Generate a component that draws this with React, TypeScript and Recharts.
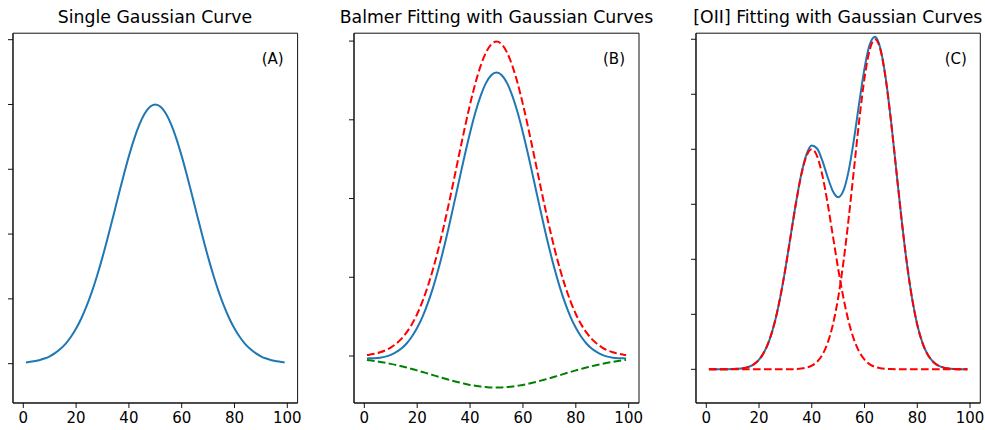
import React from 'react';
import { LineChart, Line, XAxis, YAxis, ReferenceArea } from 'recharts';

// sample positions along the x axis
const xs = [
  1, 2, 4, 6, 8, 10, 12, 14, 16, 18, 20, 22, 24, 26, 28, 30, 32, 34, 36, 38, 40, 42, 44, 46, 48, 50,
  52, 54, 56, 58, 60, 62, 64, 66, 68, 70, 72, 74, 76, 78, 80, 82, 84, 86, 88, 90, 92, 94, 96, 98, 99,
];

// (A) single gaussian
const singleCurve = [
  0.019, 0.024, 0.036, 0.054, 0.079, 0.114, 0.162, 0.225, 0.306, 0.411, 0.541, 0.701, 0.891, 1.112,
  1.364, 1.644, 1.947, 2.265, 2.588, 2.905, 3.203, 3.47, 3.692, 3.86, 3.965, 4.0,
  3.965, 3.86, 3.692, 3.47, 3.203, 2.905, 2.588, 2.265, 1.947, 1.644, 1.364, 1.112, 0.891, 0.701,
  0.541, 0.411, 0.306, 0.225, 0.162, 0.114, 0.079, 0.054, 0.036, 0.024, 0.019,
];

// (B) Balmer: total (blue), emission (red dashed), absorption (green dashed)
const balmerTotal = [
  -0.031, -0.03, -0.028, -0.021, -0.008, 0.014, 0.048, 0.095, 0.159, 0.247, 0.358, 0.498, 0.669, 0.869,
  1.101, 1.361, 1.645, 1.945, 2.251, 2.552, 2.836, 3.092, 3.304, 3.466, 3.566, 3.6,
  3.566, 3.466, 3.304, 3.092, 2.836, 2.552, 2.251, 1.945, 1.645, 1.361, 1.101, 0.869, 0.669, 0.498,
  0.358, 0.247, 0.159, 0.095, 0.048, 0.014, -0.008, -0.021, -0.028, -0.03, -0.031,
];
const balmerEmission = [
  0.012, 0.017, 0.029, 0.047, 0.072, 0.107, 0.155, 0.218, 0.299, 0.404, 0.534, 0.694, 0.884, 1.105,
  1.357, 1.637, 1.94, 2.258, 2.581, 2.898, 3.196, 3.463, 3.685, 3.853, 3.958, 3.993,
  3.958, 3.853, 3.685, 3.463, 3.196, 2.898, 2.581, 2.258, 1.94, 1.637, 1.357, 1.105, 0.884, 0.694,
  0.534, 0.404, 0.299, 0.218, 0.155, 0.107, 0.072, 0.047, 0.029, 0.017, 0.012,
];
const balmerAbsorption = [
  -0.05, -0.054, -0.064, -0.075, -0.087, -0.1, -0.114, -0.13, -0.147, -0.164, -0.183, -0.203, -0.222,
  -0.243, -0.263, -0.283, -0.302, -0.32, -0.337, -0.353, -0.367, -0.378, -0.388, -0.394, -0.399, -0.4,
  -0.399, -0.394, -0.388, -0.378, -0.367, -0.353, -0.337, -0.32, -0.302, -0.283, -0.263, -0.243,
  -0.222, -0.203, -0.183, -0.164, -0.147, -0.13, -0.114, -0.1, -0.087, -0.075, -0.064, -0.054, -0.05,
];

// (C) [OII] doublet: total (blue) and two components (red dashed)
const oiiTotal = [
  0, 0, 0, 0, 0.001, 0.004, 0.009, 0.02, 0.044, 0.091, 0.176, 0.318, 0.541, 0.865, 1.299, 1.832,
  2.428, 3.024, 3.543, 3.908, 4.067, 4.014, 3.794, 3.496, 3.238, 3.129,
  3.247, 3.612, 4.18, 4.847, 5.471, 5.906, 6.044, 5.835, 5.304, 4.533, 3.64, 2.747, 1.948, 1.298,
  0.812, 0.477, 0.264, 0.137, 0.067, 0.031, 0.013, 0.005, 0.002, 0.001, 0,
];
const oiiComp1 = [
  0, 0, 0, 0, 0.001, 0.004, 0.009, 0.02, 0.044, 0.091, 0.176, 0.318, 0.541, 0.865, 1.299, 1.831,
  2.426, 3.019, 3.53, 3.877, 4.0, 3.877, 3.53, 3.019, 2.426, 1.831,
  1.299, 0.865, 0.541, 0.318, 0.176, 0.091, 0.044, 0.02, 0.009, 0.004, 0.001, 0, 0, 0,
  0, 0, 0, 0, 0, 0, 0, 0, 0, 0, 0,
];
const oiiComp2 = [
  0, 0, 0, 0, 0, 0, 0, 0, 0, 0, 0, 0, 0, 0, 0, 0.001,
  0.002, 0.005, 0.013, 0.031, 0.067, 0.137, 0.264, 0.477, 0.812, 1.298,
  1.948, 2.747, 3.639, 4.529, 5.295, 5.815, 6.0, 5.815, 5.295, 4.529, 3.639, 2.747, 1.948, 1.298,
  0.812, 0.477, 0.264, 0.137, 0.067, 0.031, 0.013, 0.005, 0.002, 0.001, 0,
];

const xTicks = [0, 20, 40, 60, 80, 100];
const xDomain: [number, number] = [-3.9, 103.9];

const BLUE = '#1f77b4';
const RED = '#ff0000';
const GREEN = '#008000';
const DASH = '7.7 3.3';
const FONT = '"DejaVu Sans", Verdana, sans-serif';
const AXIS_COLOR = '#111';

type Series = { key: string; values: number[]; color: string; dashed: boolean };

type PanelProps = {
  title: string;
  tag: string;
  plotLeft: number;
  plotWidth: number;
  yDomain: [number, number];
  yTicks: number[];
  series: Series[];
};

const PLOT_TOP = 33.2;
const AXIS_H = 27;
const Y_W = 12;
const RIGHT_PAD = 20;
const TITLE_SIZE = 17.3;
const TICK_SIZE = 15;
const TAG_SIZE = 15;

function Panel({ title, tag, plotLeft, plotWidth, yDomain, yTicks, series }: PanelProps) {
  const rows = xs.map((x, i) => {
    const r: Record<string, number> = { x };
    series.forEach((s) => {
      r[s.key] = s.values[i];
    });
    return r;
  });
  const chartW = Y_W + plotWidth + RIGHT_PAD;
  return (
    <>
      <div
        style={{
          position: 'absolute',
          left: plotLeft - 20,
          width: plotWidth + 40,
          top: 23.7 - 0.846 * TITLE_SIZE,
          fontSize: TITLE_SIZE,
          lineHeight: `${TITLE_SIZE}px`,
          textAlign: 'center',
          whiteSpace: 'nowrap',
          color: '#000',
          fontFamily: FONT,
        }}
      >
        {title}
      </div>
      <div style={{ position: 'absolute', left: plotLeft - Y_W, top: 0, width: chartW, height: 430 }}>
        <LineChart
          width={chartW}
          height={430}
          data={rows}
          margin={{ top: PLOT_TOP, right: RIGHT_PAD, bottom: 0, left: 0 }}
        >
          <XAxis
            dataKey="x"
            type="number"
            domain={xDomain}
            ticks={xTicks}
            interval={0}
            allowDataOverflow
            height={AXIS_H}
            tickSize={5}
            tickMargin={4}
            stroke={AXIS_COLOR}
            tick={{ fill: '#000', fontSize: TICK_SIZE, fontFamily: FONT }}
          />
          <YAxis
            type="number"
            domain={yDomain}
            ticks={yTicks}
            interval={0}
            allowDataOverflow
            width={Y_W}
            tickSize={5}
            stroke={AXIS_COLOR}
            tickFormatter={() => ''}
            tick={{ fontSize: 1 }}
          />
          <ReferenceArea
            x1={xDomain[0]}
            x2={xDomain[1]}
            y1={yDomain[0]}
            y2={yDomain[1]}
            fill="none"
            fillOpacity={0}
            stroke={AXIS_COLOR}
            strokeWidth={1}
          />
          {series.map((s) => (
            <Line
              key={s.key}
              dataKey={s.key}
              type="monotone"
              stroke={s.color}
              strokeWidth={2}
              strokeDasharray={s.dashed ? DASH : undefined}
              dot={false}
              activeDot={false}
              isAnimationActive={false}
            />
          ))}
        </LineChart>
      </div>
      <div
        style={{
          position: 'absolute',
          left: plotLeft + 249,
          top: 64.3 - 0.846 * TAG_SIZE,
          fontSize: TAG_SIZE,
          lineHeight: `${TAG_SIZE}px`,
          whiteSpace: 'nowrap',
          color: '#000',
          fontFamily: FONT,
        }}
      >
        {tag}
      </div>
    </>
  );
}

export default function App() {
  return (
    <div
      style={{
        position: 'absolute',
        left: 0,
        top: 0,
        width: 985,
        height: 430,
        overflow: 'hidden',
        background: '#fff',
        fontFamily: FONT,
      }}
    >
      <Panel
        title="Single Gaussian Curve"
        tag="(A)"
        plotLeft={12.7}
        plotWidth={284.6}
        yDomain={[-0.607, 5.1]}
        yTicks={[0, 1, 2, 3, 4, 5]}
        series={[{ key: 'single', values: singleCurve, color: BLUE, dashed: false }]}
      />
      <Panel
        title="Balmer Fitting with Gaussian Curves"
        tag="(B)"
        plotLeft={354}
        plotWidth={285}
        yDomain={[-0.597, 4.1]}
        yTicks={[0, 1, 2, 3, 4]}
        series={[
          { key: 'total', values: balmerTotal, color: BLUE, dashed: false },
          { key: 'emission', values: balmerEmission, color: RED, dashed: true },
          { key: 'absorption', values: balmerAbsorption, color: GREEN, dashed: true },
        ]}
      />
      <Panel
        title="[OII] Fitting with Gaussian Curves"
        tag="(C)"
        plotLeft={695.7}
        plotWidth={284.3}
        yDomain={[-0.612, 6.11]}
        yTicks={[0, 1, 2, 3, 4, 5, 6]}
        series={[
          { key: 'total', values: oiiTotal, color: BLUE, dashed: false },
          { key: 'comp1', values: oiiComp1, color: RED, dashed: true },
          { key: 'comp2', values: oiiComp2, color: RED, dashed: true },
        ]}
      />
    </div>
  );
}
